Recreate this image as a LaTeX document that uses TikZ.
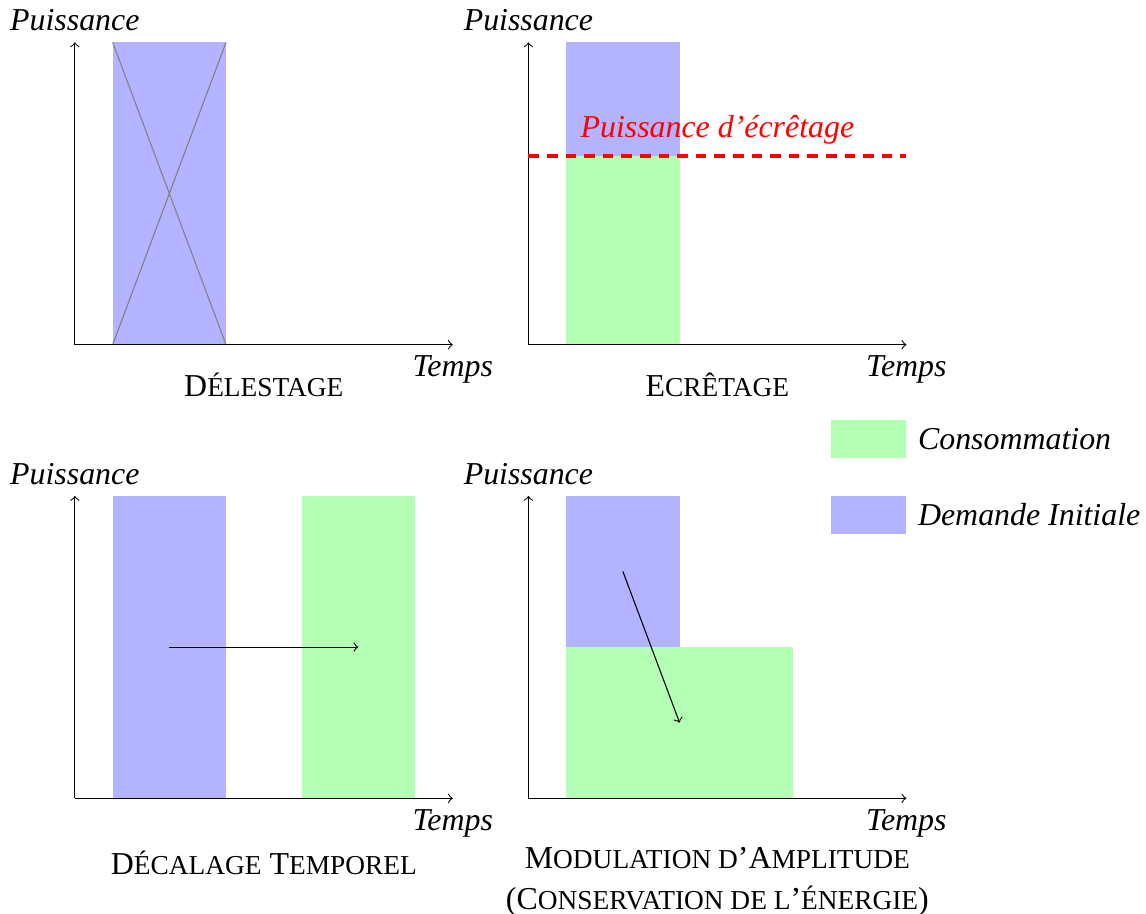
\documentclass[tikz,border=0pt,12pt]{standalone}
\usepackage{fontspec}
\setmainfont{Liberation Serif}[ItalicFont={Liberation Serif Italic}]
\usepackage{tikz}
\usetikzlibrary{positioning,arrows}
\definecolor{colordemande}{RGB}{179,179,255}
\definecolor{colorconso}  {RGB}{179,255,179}
\newcommand\pcap[1]{{\fontsize{10.3pt}{11pt}\selectfont #1}}

\begin{document}
\begin{tikzpicture}[
    node distance = 0pt, auto,
    axe/.style={->},
    lbl/.style={font={\itshape}},
    titre/.style={align=center},
    demande/.style={fill=colordemande},
    conso/.style={fill=colorconso},
    legbox/.style={minimum width=1cm,minimum height=0.5cm,inner sep=0pt},
    ecret/.style={red,line width=1.5pt,dash pattern=on 4pt off 3pt},
]
    \useasboundingbox (-0.99,-7.53) rectangle (14.17,4.56);

    % Delestage
    \fill[demande] (0.5,0) rectangle (2,4);
    \draw[gray] (0.5,0) -- (2,4) (0.5,4) -- (2,0);
    \coordinate (oa) at (0,0);
    \coordinate (xa) at (5,0);
    \coordinate (ya) at (0,4);
    \draw[axe] (oa) -- (xa);
    \draw[axe] (oa) -- (ya);
    \node[lbl,above=of ya] (pa) {Puissance};
    \node[lbl,below=of xa] (ta) {Temps};
    \node[titre] (tia) at (2.5,-0.53) {D\pcap{ÉLESTAGE}};

    % Ecretage
    \fill[demande] (6.5,2.5) rectangle (8,4);
    \fill[conso]   (6.5,0)   rectangle (8,2.5);
    \coordinate (ob) at (6,0);
    \coordinate (xb) at (11,0);
    \coordinate (yb) at (6,4);
    \draw[axe] (ob) -- (xb);
    \draw[axe] (ob) -- (yb);
    \coordinate (ea) at (6,2.5);
    \coordinate (eb) at (11,2.5);
    \draw[ecret] (ea) -- (eb);
    \node[lbl,red,above] (pe) at (8.5,2.5) {Puissance d’écrêtage};
    \node[lbl,above=of yb] (pb) {Puissance};
    \node[lbl,below=of xb] (tb) {Temps};
    \node[titre] (tib) at (8.5,-0.53) {E\pcap{CRÊTAGE}};

    % Decalage temporel
    \fill[demande] (0.5,-6) rectangle (2,-2);
    \fill[conso]   (3,-6)   rectangle (4.5,-2);
    \coordinate (oc) at (0,-6);
    \coordinate (xc) at (5,-6);
    \coordinate (yc) at (0,-2);
    \draw[axe] (oc) -- (xc);
    \draw[axe] (oc) -- (yc);
    \coordinate (dca) at (1.25,-4);
    \coordinate (dcb) at (3.75,-4);
    \draw[->] (dca) -- (dcb);
    \node[lbl,above=of yc] (pc) {Puissance};
    \node[lbl,below=of xc] (tc) {Temps};
    \node[titre] (tic) at (2.5,-6.85) {D\pcap{ÉCALAGE} T\pcap{EMPOREL}};

    % Modulation d'amplitude
    \fill[demande] (6.5,-4) rectangle (8,-2);
    \fill[conso]   (6.5,-6) rectangle (9.5,-4);
    \coordinate (od) at (6,-6);
    \coordinate (xd) at (11,-6);
    \coordinate (yd) at (6,-2);
    \draw[axe] (od) -- (xd);
    \draw[axe] (od) -- (yd);
    \coordinate (mda) at (7.25,-3);
    \coordinate (mdb) at (8,-5);
    \draw[->] (mda) -- (mdb);
    \node[lbl,above=of yd] (pd) {Puissance};
    \node[lbl,below=of xd] (td) {Temps};
    \node[titre] (tid) at (8.5,-7.1)
        {M\pcap{ODULATION D}’A\pcap{MPLITUDE}\\[1pt](C\pcap{ONSERVATION DE L}’\pcap{ÉNERGIE})};

    % Legende
    \node[conso,legbox]   (lgc) at (10.5,-1.25) {};
    \node[demande,legbox] (lgd) at (10.5,-2.25) {};
    \node[lbl,right=of lgc] (lgct) {Consommation};
    \node[lbl,right=of lgd] (lgdt) {Demande Initiale};

\end{tikzpicture}
\end{document}
